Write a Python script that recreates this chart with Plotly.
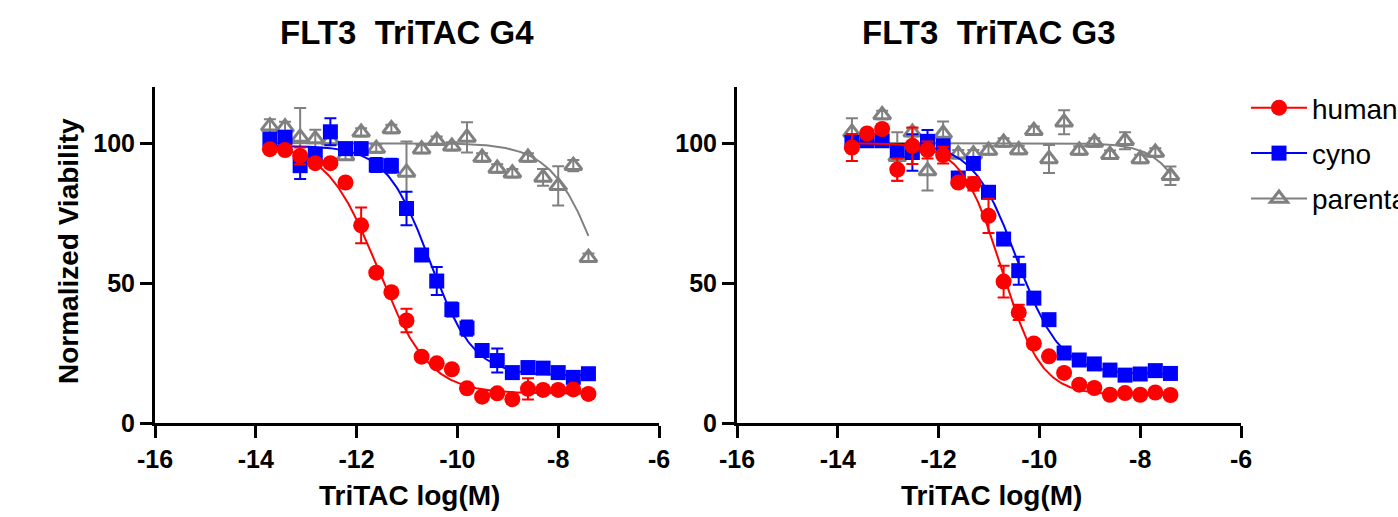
import numpy as np
import plotly.graph_objects as go

# ---------------- data ----------------
log_conc = [-13.72, -13.42, -13.12, -12.82, -12.52, -12.22, -11.91, -11.61, -11.31, -11.01, -10.71,
            -10.41, -10.11, -9.81, -9.51, -9.21, -8.91, -8.60, -8.30, -8.00, -7.70, -7.40]

# Panel 1: FLT3 TriTAC G4
g4_human = [97.8, 97.5, 95.4, 92.8, 92.8, 85.9, 70.6, 53.7, 46.7, 36.6, 23.7,
            21.3, 19.2, 12.4, 9.4, 10.6, 8.5, 12.2, 11.8, 11.8, 12.0, 10.4]
g4_human_err = [1.5, 1.5, 3.0, 1.5, 1.5, 1.5, 6.4, 1.5, 1.5, 4.2, 1.5,
                1.5, 1.5, 1.5, 1.5, 1.5, 1.5, 3.8, 1.5, 1.5, 1.5, 1.5]
g4_cyno = [101.4, 102.0, 91.9, 96.0, 104.0, 98.0, 98.0, 92.1, 91.9, 76.6, 60.0,
           50.7, 40.5, 33.9, 25.9, 22.3, 18.0, 19.8, 19.6, 18.0, 16.3, 17.6]
g4_cyno_err = [1.5, 1.5, 4.8, 1.5, 4.8, 1.5, 1.5, 2.5, 2.5, 6.0, 2.0,
               5.0, 2.5, 2.7, 1.5, 4.3, 1.5, 1.5, 1.5, 1.5, 1.5, 1.5]
g4_parental = [106.0, 105.6, 102.0, 101.4, 101.0, 95.4, 103.8, 98.0, 105.0, 89.5, 97.8,
               100.8, 98.8, 102.0, 94.8, 90.9, 89.2, 94.8, 87.7, 84.7, 91.9, 59.0]
g4_parental_err = [2.5, 2.0, 10.5, 3.3, 1.5, 1.5, 1.5, 1.5, 1.5, 11.0, 1.5,
                   1.5, 1.5, 5.4, 1.5, 1.5, 1.5, 1.5, 3.0, 7.0, 2.0, 1.5]

# Panel 2: FLT3 TriTAC G3
g3_human = [98.4, 103.4, 105.0, 90.5, 99.0, 97.5, 95.7, 85.9, 85.4, 74.0, 50.5,
            39.5, 28.4, 23.8, 17.9, 13.7, 12.5, 10.1, 10.7, 10.1, 10.9, 10.0]
g3_human_err = [4.8, 1.5, 1.5, 4.0, 6.5, 3.0, 3.0, 1.5, 2.4, 6.1, 5.7,
                2.7, 1.5, 1.5, 1.5, 1.5, 1.5, 1.5, 1.5, 1.5, 1.5, 1.5]
g3_cyno = [100.2, 100.8, 100.8, 97.3, 96.6, 100.6, 99.0, 87.5, 92.7, 82.4, 65.7,
           54.4, 44.6, 36.9, 25.0, 22.5, 21.1, 18.9, 17.1, 17.5, 18.7, 17.7]
g3_cyno_err = [1.5, 1.5, 1.5, 1.5, 6.5, 4.0, 1.5, 1.5, 1.5, 1.5, 1.5,
               5.0, 1.5, 1.5, 1.5, 1.5, 1.5, 1.5, 1.5, 1.5, 1.5, 1.5]
g3_parental = [103.8, 101.0, 110.0, 95.1, 103.8, 90.0, 103.4, 96.0, 96.0, 97.3, 100.2,
               97.5, 104.4, 94.3, 107.4, 97.3, 100.2, 95.8, 100.8, 94.3, 96.6, 88.3]
g3_parental_err = [5.0, 1.5, 1.5, 8.7, 1.5, 7.0, 4.3, 1.5, 1.5, 1.5, 1.5,
                   1.5, 1.5, 5.0, 4.3, 1.5, 1.5, 1.5, 3.0, 1.5, 1.5, 3.3]

# four-parameter logistic fit parameters: (top, bottom, logIC50, hill)
g4_fits = {"human": (100.0, 10.5, -11.58, 0.85),
           "cyno": (99.0, 17.0, -10.55, 1.0),
           "parental": (100.0, 0.0, -7.05, 0.87)}
g3_fits = {"human": (100.0, 10.0, -10.75, 1.1),
           "cyno": (100.0, 17.5, -10.45, 1.0),
           "parental": (100.0, 0.0, -6.56, 1.08)}

x_ticks = [-16, -14, -12, -10, -8, -6]
x_ticklabels = ["-16", "-14", "-12", "-10", "-8", "-6"]
y_ticks = [0, 50, 100]
y_ticklabels = ["0", "50", "100"]

series_names = ["human", "cyno", "parental"]
colors = {"human": "#FF0000", "cyno": "#0000FF", "parental": "#808080"}
symbols = {"human": "circle", "cyno": "square", "parental": "triangle-up-open"}
msize = {"human": 16, "cyno": 15, "parental": 15}

panels = [
    ("FLT3\u00a0\u00a0TriTAC G4", {"human": (g4_human, g4_human_err), "cyno": (g4_cyno, g4_cyno_err),
                                    "parental": (g4_parental, g4_parental_err)}, g4_fits, "x", "y"),
    ("FLT3\u00a0\u00a0TriTAC G3", {"human": (g3_human, g3_human_err), "cyno": (g3_cyno, g3_cyno_err),
                                    "parental": (g3_parental, g3_parental_err)}, g3_fits, "x2", "y2"),
]


def four_pl(x, top, bottom, logic50, hill):
    return bottom + (top - bottom) / (1.0 + 10.0 ** ((x - logic50) * hill))


fig = go.Figure()
xfit = np.linspace(min(log_conc), max(log_conc), 300)

for title, data, fits, xa, ya in panels:
    for name in ["parental", "cyno", "human"]:
        yv, ev = data[name]
        col = colors[name]
        fig.add_trace(go.Scatter(
            x=xfit, y=four_pl(xfit, *fits[name]), mode="lines",
            line=dict(color=col, width=2), xaxis=xa, yaxis=ya,
            showlegend=False, hoverinfo="skip"))
        fig.add_trace(go.Scatter(
            x=log_conc, y=yv, mode="markers", xaxis=xa, yaxis=ya,
            marker=dict(symbol=symbols[name], size=msize[name], color=col,
                        line=dict(color=col, width=3 if name == "parental" else 0)),
            error_y=dict(type="data", array=ev, visible=True, color=col, thickness=2, width=6),
            showlegend=False, name=name))

# legend entries
for i, name in enumerate(series_names):
    col = colors[name]
    fig.add_trace(go.Scatter(
        x=[None], y=[None], mode="lines+markers", name=name, legendgroup=name,
        line=dict(color=col, width=2),
        marker=dict(symbol=symbols[name], size=msize[name], color=col,
                    line=dict(color=col, width=3 if name == "parental" else 0)),
        xaxis="x", yaxis="y", showlegend=True))

FONT = "Liberation Sans, Arial, sans-serif"
bold = dict(family=FONT, size=25, color="black", weight="bold")

x_dom1 = [155 / 1398, 659 / 1398]
x_dom2 = [737 / 1398, 1241 / 1398]
y_dom = [(517 - 423) / 517, (517 - 87) / 517]

axis_common = dict(showline=True, linecolor="black", linewidth=3, ticks="outside",
                   ticklen=12, tickwidth=3, tickcolor="black", showgrid=False,
                   zeroline=False, tickfont=bold, mirror=False, automargin=False)

fig.update_layout(
    width=1398, height=517, autosize=False,
    margin=dict(l=0, r=0, t=0, b=0, autoexpand=False),
    paper_bgcolor="white", plot_bgcolor="white",
    xaxis=dict(domain=x_dom1, range=[-16, -6], tickvals=x_ticks, ticktext=x_ticklabels, anchor="y", **axis_common),
    yaxis=dict(domain=y_dom, range=[0, 120], tickvals=y_ticks, ticktext=y_ticklabels, anchor="x", **axis_common),
    xaxis2=dict(domain=x_dom2, range=[-16, -6], tickvals=x_ticks, ticktext=x_ticklabels, anchor="y2", **axis_common),
    yaxis2=dict(domain=y_dom, range=[0, 120], tickvals=y_ticks, ticktext=y_ticklabels, anchor="x2", **axis_common),
    legend=dict(x=1246 / 1398, y=1 - 83 / 517, xanchor="left", yanchor="top",
                font=dict(family=FONT, size=28, color="black"),
                tracegroupgap=6, bgcolor="rgba(0,0,0,0)", itemwidth=56),
    showlegend=True,
)

annotations = []
for (title, _, _, _, _), dom in zip(panels, [x_dom1, x_dom2]):
    cx = (dom[0] + dom[1]) / 2
    annotations.append(dict(text=title, x=cx, y=1 - 33 / 517, xref="paper", yref="paper",
                            showarrow=False, xanchor="center", yanchor="middle",
                            font=dict(family=FONT, size=33, color="black", weight="bold")))
    annotations.append(dict(text="TriTAC log(M)", x=cx + 2 / 1398, y=1 - 495 / 517, xref="paper", yref="paper",
                            showarrow=False, xanchor="center", yanchor="middle",
                            font=dict(family=FONT, size=28, color="black", weight="bold")))
annotations.append(dict(text="Normalized Viability", x=68 / 1398, y=1 - 251 / 517, xref="paper", yref="paper",
                        showarrow=False, xanchor="center", yanchor="middle", textangle=-90,
                        font=dict(family=FONT, size=28, color="black", weight="bold")))
fig.update_layout(annotations=annotations)

fig.write_html("out.html")
